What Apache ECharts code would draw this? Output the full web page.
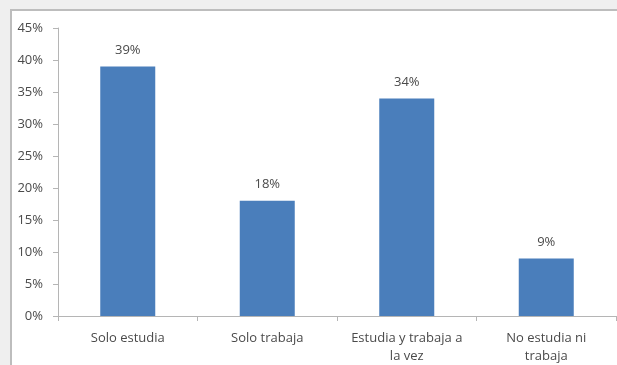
<!DOCTYPE html>
<html>
<head>
<meta charset="utf-8">
<script src="https://cdn.jsdelivr.net/npm/echarts@6/dist/echarts.min.js"></script>
<style>
  html, body { margin: 0; padding: 0; background: #efefef; width: 617px; height: 365px; overflow: hidden; }
  #chart {
    position: absolute; left: 10px; top: 9px;
    width: 605px; height: 354px;
    border-left: 2px solid #bdbdbd; border-top: 2px solid #bdbdbd;
    background: #ffffff;
  }
</style>
</head>
<body>
<div id="chart"></div>
<script>
// Situación de los jóvenes: estudio y trabajo (%)
const categories = ['Solo estudia', 'Solo trabaja', 'Estudia y trabaja a\nla vez', 'No estudia ni\ntrabaja'];
const values = [39, 18, 34, 9];
const yTicks = { min: 0, max: 45, step: 5 };

const font = '"Open Sans", Lato, sans-serif';
const textColor = '#4a4a4a';
const chart = echarts.init(document.getElementById('chart'), null, { renderer: 'canvas' });
chart.setOption({
  animation: false,
  backgroundColor: '#ffffff',
  grid: { left: 46, right: 1, top: 17, bottom: 49 },
  xAxis: {
    type: 'category',
    data: categories,
    axisLine: { lineStyle: { color: '#b5b5b5', width: 1 } },
    axisTick: { show: true, length: 5, lineStyle: { color: '#b5b5b5' } },
    axisLabel: { color: textColor, fontFamily: font, fontSize: 13, margin: 13, lineHeight: 18, interval: 0 }
  },
  yAxis: {
    type: 'value',
    min: yTicks.min, max: yTicks.max, interval: yTicks.step,
    splitLine: { show: false },
    axisLine: { show: true, lineStyle: { color: '#b5b5b5', width: 1 } },
    axisTick: { show: true, length: 5, lineStyle: { color: '#b5b5b5' } },
    axisLabel: { formatter: '{value}%', color: textColor, fontFamily: font, fontSize: 13, margin: 15 }
  },
  series: [{
    type: 'bar',
    data: values,
    barWidth: 55,
    itemStyle: { color: '#4a7ebb' },
    label: {
      show: true, position: 'top', distance: 10,
      formatter: '{c}%', color: textColor, fontFamily: font, fontSize: 13
    }
  }]
});
</script>
</body>
</html>
